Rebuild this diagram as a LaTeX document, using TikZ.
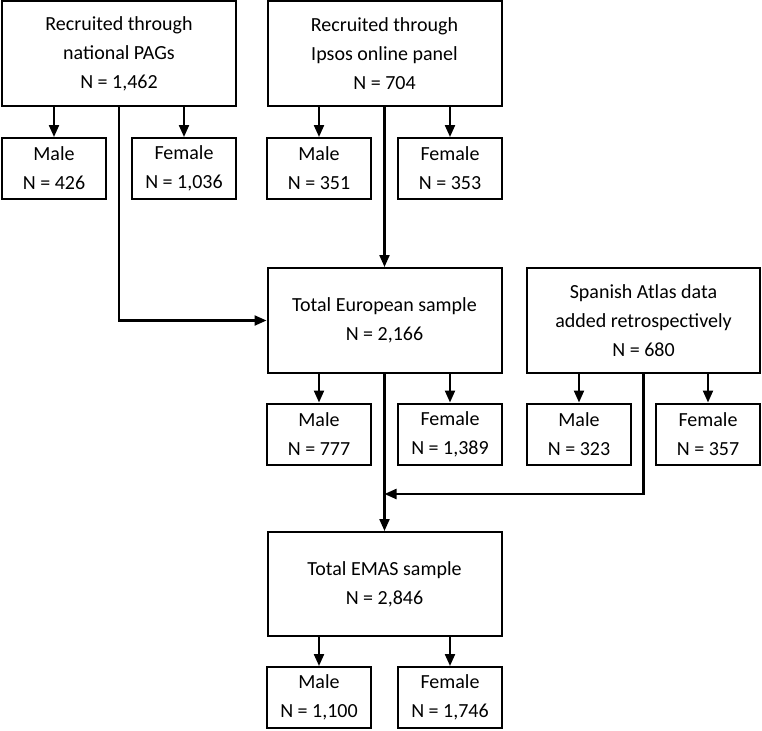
\documentclass[tikz,border=0pt]{standalone}
\usepackage{fontspec}
\setmainfont{Carlito}
\usetikzlibrary{arrows.meta}
\usetikzlibrary{calc}

\tikzset{
    group/.style={draw, line width=1pt, align=center, inner sep=0pt,
        minimum width=117pt, minimum height=52.5pt},
    split/.style={draw, line width=1pt, align=center, inner sep=0pt,
        minimum width=52pt, minimum height=30.5pt},
    flow/.style={line width=1.1pt, -{Triangle[length=6pt, width=5pt]}},
}

\begin{document}
\begin{tikzpicture}[x=0.5pt, y=-0.5pt,
        font=\fontsize{10}{14.5}\selectfont]
    \useasboundingbox (0,0) rectangle (762,730);

    % Recruitment sources
    \node[group] (pags) at (119,53.5)
        {Recruited through\\national PAGs\\N = 1,462};
    \node[group] (ipsos) at (384.5,53.5)
        {Recruited through\\Ipsos online panel\\N = 704};

    \node[split] (pagsM) at (54,168.5) {Male\\N = 426};
    \node[split] (pagsF) at (184,168.5) {Female\\N = 1,036};
    \node[split] (ipsosM) at (319,168.5) {Male\\N = 351};
    \node[split] (ipsosF) at (450,168.5) {Female\\N = 353};

    % Samples
    \node[group] (europe) at (384.5,320.5)
        {Total European sample\\N = 2,166};
    \node[group, minimum width=116.5pt] (spain) at (643.5,320.5)
        {Spanish Atlas data\\added retrospectively\\N = 680};

    \node[split] (europeM) at (319,434) {Male\\N = 777};
    \node[split] (europeF) at (450,434) {Female\\N = 1,389};
    \node[split] (spainM) at (579,434) {Male\\N = 323};
    \node[split] (spainF) at (708,434) {Female\\N = 357};

    \node[group, minimum height=52pt] (emas) at (384.5,584)
        {Total EMAS sample\\N = 2,846};

    \node[split] (emasM) at (319,697.5) {Male\\N = 1,100};
    \node[split] (emasF) at (450,697.5) {Female\\N = 1,746};

    % Male / female splits
    \foreach \src/\dst in {pags/pagsM, pags/pagsF, ipsos/ipsosM, ipsos/ipsosF,
            europe/europeM, europe/europeF, spain/spainM, spain/spainF,
            emas/emasM, emas/emasF}
        \draw[flow] (\src.south -| \dst.north) -- (\dst.north);

    % Merging
    \draw[flow] (pags.south) |- (europe.west);
    \draw[flow] (ipsos) -- (europe);
    \draw[flow] (europe) -- (emas);
    \coordinate (level) at (0,494);
    \coordinate (join) at (europe.south |- level);
    \draw[flow] (spain.south) |- (join);
\end{tikzpicture}
\end{document}
